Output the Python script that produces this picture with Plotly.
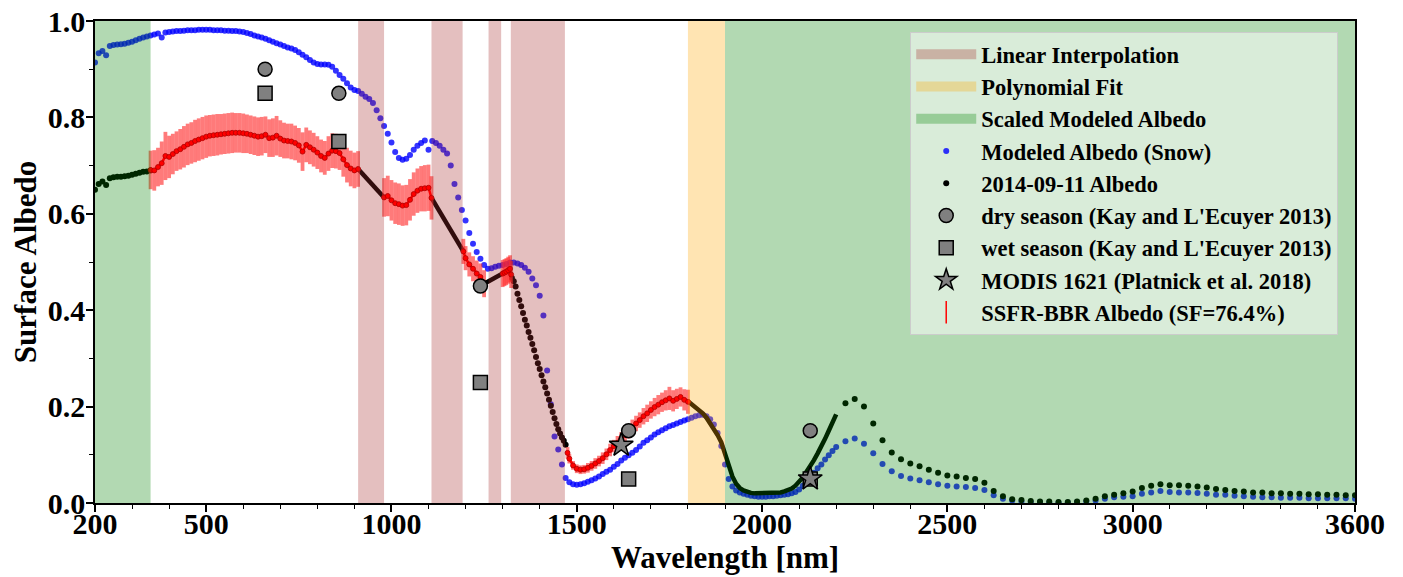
import plotly.graph_objects as go

# ---------------- data ----------------
# Modeled albedo (snow): 200-2200 nm every 10 nm, then 2225-3600 every 25 nm
model_wl = list(range(200, 2201, 10)) + list(range(2225, 3601, 25))
model_alb = [
    0.914, 0.933, 0.938, 0.929, 0.948, 0.950, 0.951, 0.952, 0.953, 0.955,
    0.957, 0.960, 0.963, 0.966, 0.968, 0.970, 0.972, 0.974, 0.966, 0.976,
    0.977, 0.978, 0.979, 0.979, 0.980, 0.981, 0.981, 0.981, 0.982, 0.982,
    0.982, 0.982, 0.981, 0.981, 0.981, 0.980, 0.980, 0.979, 0.979, 0.978,
    0.977, 0.975, 0.973, 0.970, 0.968, 0.966, 0.963, 0.960, 0.957, 0.954,
    0.951, 0.948, 0.945, 0.943, 0.940, 0.935, 0.930, 0.925, 0.919, 0.914,
    0.911, 0.910, 0.910, 0.909, 0.905, 0.897, 0.888, 0.880, 0.871, 0.862,
    0.857, 0.855, 0.849, 0.843, 0.838, 0.830, 0.815, 0.798, 0.782, 0.766,
    0.748, 0.728, 0.716, 0.712, 0.714, 0.722, 0.733, 0.741, 0.747, 0.752,
    0.733, 0.751, 0.747, 0.741, 0.733, 0.725, 0.700, 0.662, 0.634, 0.608,
    0.586, 0.560, 0.538, 0.521, 0.507, 0.494, 0.486, 0.487, 0.490, 0.492,
    0.494, 0.496, 0.499, 0.499, 0.497, 0.494, 0.488, 0.480, 0.466, 0.452,
    0.430, 0.389, 0.275, 0.205, 0.138, 0.111, 0.080, 0.052, 0.043, 0.039,
    0.038, 0.039, 0.041, 0.044, 0.047, 0.051, 0.055, 0.060, 0.065, 0.069,
    0.075, 0.081, 0.088, 0.094, 0.099, 0.104, 0.110, 0.117, 0.125, 0.130,
    0.136, 0.142, 0.147, 0.151, 0.155, 0.159, 0.162, 0.165, 0.168, 0.171,
    0.174, 0.177, 0.180, 0.182, 0.183, 0.180, 0.174, 0.163, 0.145, 0.118,
    0.080, 0.050, 0.034, 0.026, 0.022, 0.019, 0.017, 0.015, 0.014, 0.013,
    0.013, 0.013, 0.014, 0.014, 0.015, 0.016, 0.017, 0.018, 0.020, 0.023,
    0.028, 0.036, 0.045, 0.054, 0.063, 0.072, 0.080, 0.090, 0.099, 0.108,
    0.116,
    0.128, 0.134, 0.123, 0.103, 0.081, 0.066, 0.056, 0.051, 0.047, 0.043,
    0.039, 0.036, 0.034, 0.033, 0.031, 0.027, 0.016, 0.009, 0.005, 0.003,
    0.002, 0.002, 0.001, 0.001, 0.001, 0.002, 0.003, 0.005, 0.009, 0.012,
    0.013, 0.014, 0.019, 0.022, 0.025, 0.023, 0.022, 0.022, 0.021, 0.019,
    0.017, 0.017, 0.015, 0.014, 0.013, 0.012, 0.012, 0.011, 0.011, 0.011,
    0.010, 0.010, 0.010, 0.010, 0.010, 0.009,
]

# 2014-09-11 albedo, dotted parts
obs_dot_uv_wl = list(range(200, 351, 10))
obs_dot_uv = [0.650, 0.662, 0.667, 0.660, 0.674, 0.676, 0.677, 0.677, 0.678, 0.679,
              0.681, 0.683, 0.685, 0.687, 0.688, 0.690]
obs_dot_band_wl = list(range(1325, 1471, 5))
obs_dot_band = [0.467, 0.460, 0.449, 0.434, 0.421, 0.408, 0.394, 0.380, 0.368, 0.355,
                0.343, 0.330, 0.317, 0.303, 0.290, 0.278, 0.265, 0.252, 0.240, 0.227,
                0.214, 0.202, 0.189, 0.176, 0.164, 0.153, 0.144, 0.136, 0.129, 0.121]
obs_dot_ir_wl = list(range(2225, 3601, 25))
obs_dot_ir = [
    0.207, 0.216, 0.200, 0.165, 0.130, 0.105, 0.091, 0.082, 0.076, 0.069,
    0.063, 0.057, 0.055, 0.052, 0.050, 0.042, 0.025, 0.014, 0.008, 0.006,
    0.004, 0.003, 0.003, 0.002, 0.002, 0.003, 0.005, 0.009, 0.014, 0.017,
    0.020, 0.024, 0.031, 0.036, 0.039, 0.037, 0.037, 0.036, 0.034, 0.032,
    0.029, 0.027, 0.025, 0.024, 0.022, 0.022, 0.020, 0.020, 0.019, 0.019,
    0.018, 0.018, 0.017, 0.017, 0.016, 0.016,
]
# 2014-09-11 albedo, dense (interpolated / fitted / scaled) parts
interp1_wl = [910, 980]
interp1 = [0.693, 0.634]
interp2_wl = [1108, 1194]
interp2 = [0.633, 0.522]
interp3_wl = [1250, 1300]
interp3 = [0.455, 0.476]
fit_wl = list(range(1800, 2201, 10))
fit_alb = [
    0.211, 0.205, 0.200, 0.194, 0.186, 0.177, 0.166, 0.154, 0.141, 0.126,
    0.102, 0.076, 0.055, 0.040, 0.031, 0.026, 0.023, 0.021, 0.020, 0.020,
    0.020, 0.020, 0.020, 0.021, 0.021, 0.022, 0.024, 0.026, 0.030, 0.036,
    0.043, 0.053, 0.065, 0.076, 0.089, 0.103, 0.117, 0.133, 0.150, 0.167,
    0.184,
]

# SSFR-BBR albedo segments with uncertainty
ssfr_a_wl = list(range(350, 911, 10))
ssfr_a = [0.691, 0.690, 0.697, 0.705, 0.720, 0.718, 0.724, 0.730, 0.734, 0.739,
          0.744, 0.747, 0.751, 0.754, 0.757, 0.760, 0.762, 0.763, 0.764, 0.765,
          0.766, 0.767, 0.768, 0.768, 0.768, 0.767, 0.766, 0.764, 0.762, 0.760,
          0.761, 0.764, 0.757, 0.758, 0.762, 0.756, 0.752, 0.751, 0.750, 0.747,
          0.742, 0.729, 0.743, 0.738, 0.733, 0.727, 0.720, 0.716, 0.725, 0.731,
          0.730, 0.726, 0.713, 0.701, 0.694, 0.690, 0.693]
ssfr_a_err = [0.040, 0.042, 0.040, 0.045, 0.050, 0.044, 0.042, 0.041, 0.042, 0.043,
              0.043, 0.043, 0.044, 0.044, 0.044, 0.044, 0.043, 0.043, 0.043, 0.042,
              0.042, 0.042, 0.042, 0.041, 0.041, 0.041, 0.040, 0.040, 0.040, 0.040,
              0.040, 0.038, 0.039, 0.040, 0.041, 0.038, 0.037, 0.036, 0.037, 0.036,
              0.036, 0.040, 0.036, 0.035, 0.035, 0.034, 0.034, 0.035, 0.036, 0.036,
              0.036, 0.035, 0.036, 0.036, 0.037, 0.037, 0.037]
ssfr_b_wl = [980, 990, 1000, 1010, 1020, 1030, 1040, 1050, 1060, 1070, 1080, 1090, 1100, 1108]
ssfr_b = [0.634, 0.637, 0.628, 0.622, 0.620, 0.617, 0.618, 0.629, 0.641, 0.648,
          0.652, 0.653, 0.654, 0.633]
ssfr_b_err = [0.040, 0.042, 0.042, 0.043, 0.043, 0.042, 0.042, 0.043, 0.045, 0.046,
              0.047, 0.048, 0.048, 0.045]
ssfr_c_wl = [1194, 1200, 1210, 1220, 1230, 1240, 1250]
ssfr_c = [0.522, 0.508, 0.495, 0.486, 0.476, 0.469, 0.455]
ssfr_c_err = [0.026, 0.025, 0.025, 0.026, 0.027, 0.028, 0.028]
ssfr_d_wl = [1300, 1305, 1310, 1315, 1320, 1323]
ssfr_d = [0.476, 0.478, 0.480, 0.483, 0.486, 0.474]
ssfr_d_err = [0.028, 0.028, 0.028, 0.028, 0.028, 0.028]
ssfr_e_wl = [1475] + list(range(1480, 1801, 10))
ssfr_e = [0.104, 0.092, 0.078, 0.071, 0.069, 0.070, 0.073, 0.077, 0.082, 0.087,
          0.093, 0.101, 0.110, 0.118, 0.125, 0.133, 0.141, 0.149, 0.157, 0.165,
          0.172, 0.180, 0.186, 0.193, 0.199, 0.204, 0.209, 0.213, 0.217, 0.212,
          0.216, 0.220, 0.214, 0.210]
ssfr_e_err = [0.012, 0.010, 0.009, 0.009, 0.009, 0.009, 0.010, 0.010, 0.011, 0.011,
              0.012, 0.012, 0.013, 0.013, 0.014, 0.014, 0.015, 0.015, 0.016, 0.016,
              0.016, 0.017, 0.018, 0.018, 0.019, 0.020, 0.020, 0.021, 0.024, 0.022,
              0.021, 0.020, 0.022, 0.025]

# Kay & L'Ecuyer 2013 and MODIS
band_wl = [659, 858, 1240, 1640, 2130]
dry_alb = [0.90, 0.85, 0.45, 0.15, 0.15]
wet_alb = [0.85, 0.75, 0.25, 0.05, 0.05]
modis_wl = [1620, 2130]
modis_alb = [0.12, 0.05]

# shaded wavelength ranges
linear_spans = [(910, 980), (1108, 1192), (1262, 1296), (1322, 1468)]
poly_spans = [(1800, 1900)]
scaled_spans = [(200, 350), (1900, 3600)]

FONT = "Liberation Serif"

# ---------------- figure ----------------
fig = go.Figure()


def join(*segs):
    xs, ys = [], []
    for sx, sy in segs:
        xs += list(sx) + [None]
        ys += list(sy) + [None]
    return xs, ys


# modeled albedo (snow)
fig.add_trace(go.Scatter(
    x=model_wl, y=model_alb, mode="markers", name="Modeled Albedo (Snow)",
    marker=dict(color="blue", size=6, opacity=0.8, line=dict(width=0)),
    legendgroup="model", legendrank=4))

# observed albedo - dense parts
dx, dy = join((interp1_wl, interp1), (interp2_wl, interp2), (interp3_wl, interp3),
              (fit_wl, fit_alb))
fig.add_trace(go.Scatter(
    x=dx, y=dy, mode="lines", line=dict(color="black", width=4.5),
    showlegend=False, legendgroup="obs", hoverinfo="skip"))
# observed albedo - dotted parts
ox, oy = join((obs_dot_uv_wl, obs_dot_uv), (obs_dot_band_wl, obs_dot_band),
              (obs_dot_ir_wl, obs_dot_ir))
fig.add_trace(go.Scatter(
    x=ox, y=oy, mode="markers", name="2014-09-11 Albedo",
    marker=dict(color="black", size=6, line=dict(width=0)),
    legendgroup="obs", legendrank=5))

# SSFR segments
for i, (sx, sy, se) in enumerate([(ssfr_a_wl, ssfr_a, ssfr_a_err),
                                  (ssfr_b_wl, ssfr_b, ssfr_b_err),
                                  (ssfr_c_wl, ssfr_c, ssfr_c_err),
                                  (ssfr_d_wl, ssfr_d, ssfr_d_err),
                                  (ssfr_e_wl, ssfr_e, ssfr_e_err)]):
    fig.add_trace(go.Scatter(
        x=sx, y=sy, mode="lines+markers", showlegend=False, legendgroup="ssfr",
        line=dict(color="red", width=2.5),
        marker=dict(color="red", size=5, line=dict(color="#b00000", width=0.8)),
        error_y=dict(type="data", array=se, visible=True, color="rgba(255,40,40,0.62)",
                     thickness=3.8, width=0)))

# shaded spans (drawn above data lines, like the original)
span_groups = [("lin", linear_spans, "rgba(165,42,42,0.3)", "Linear Interpolation", 1),
               ("poly", poly_spans, "rgba(255,165,0,0.3)", "Polynomial Fit", 2),
               ("scaled", scaled_spans, "rgba(0,128,0,0.3)", "Scaled Modeled Albedo", 3)]
for group, spans, color, label, rank in span_groups:
    for j, (a, b) in enumerate(spans):
        fig.add_trace(go.Scatter(
            x=[a, a, b, b, a], y=[0, 1, 1, 0, 0], mode="none", fill="toself",
            fillcolor=color, name=label, legendgroup=group, showlegend=False,
            hoverinfo="skip"))
    # legend swatch
    fig.add_trace(go.Scatter(
        x=[None, None], y=[None, None], mode="lines", name=label, legendgroup=group,
        line=dict(color=color, width=16), legendrank=rank))

# reference points
fig.add_trace(go.Scatter(
    x=band_wl, y=dry_alb, mode="markers", name="dry season (Kay and L'Ecuyer 2013)",
    marker=dict(symbol="circle", size=14, color="gray", line=dict(color="black", width=1.5)),
    legendgroup="dry", legendrank=6))
fig.add_trace(go.Scatter(
    x=band_wl, y=wet_alb, mode="markers", name="wet season (Kay and L'Ecuyer 2013)",
    marker=dict(symbol="square", size=14, color="gray", line=dict(color="black", width=1.5)),
    legendgroup="wet", legendrank=7))
fig.add_trace(go.Scatter(
    x=modis_wl, y=modis_alb, mode="markers", name="MODIS 1621 (Platnick et al. 2018)",
    marker=dict(symbol="star", size=18, color="gray", line=dict(color="black", width=1.5)),
    legendgroup="modis", legendrank=8))
# legend entry for SSFR
fig.add_trace(go.Scatter(
    x=[None], y=[None], mode="markers", name="SSFR-BBR Albedo (SF=76.4%)",
    marker=dict(symbol="line-ns-open", size=18, color="red", line=dict(color="red", width=1.5)),
    legendgroup="ssfr", legendrank=9))

axis_common = dict(
    showline=True, linecolor="black", linewidth=1.5, mirror=True,
    ticks="outside", ticklen=7, tickwidth=1.5, tickcolor="black",
    showgrid=False, zeroline=False, automargin=False, ticklabeloverflow="allow",
    tickfont=dict(family=FONT, size=30, color="black", weight="bold"),
)

fig.update_xaxes(
    range=[200, 3600], tickmode="array",
    tickvals=[200, 500, 1000, 1500, 2000, 2500, 3000, 3600],
    ticktext=["200", "500", "1000", "1500", "2000", "2500", "3000", "3600"],
    minor=dict(dtick=100, tick0=0, ticks="outside", ticklen=4, tickwidth=1.2, tickcolor="black"),
    ticklabelstandoff=-14,
    title=dict(text="Wavelength [nm]", standoff=2,
               font=dict(family=FONT, size=31, color="black", weight="bold")),
    **axis_common)
fig.update_yaxes(
    range=[0, 1.0], tickmode="linear", tick0=0, dtick=0.2, tickformat=".1f",
    minor=dict(dtick=0.1, ticks="outside", ticklen=4, tickwidth=1.2, tickcolor="black"),
    ticklabelstandoff=-5,
    title=dict(text="Surface Albedo", standoff=4,
               font=dict(family=FONT, size=31, color="black", weight="bold")),
    **axis_common)

# page body adds an 8 px margin, so the figure is sized 8 px smaller
fig.update_layout(
    width=1395, height=569, autosize=False,
    margin=dict(l=87, r=48, t=13, b=73.5),
    plot_bgcolor="white", paper_bgcolor="white",
    font=dict(family=FONT, color="black"),
    legend=dict(x=0.647, y=0.977, xanchor="left", yanchor="top",
                bgcolor="rgba(255,255,255,0.5)", bordercolor="#cccccc", borderwidth=1,
                font=dict(family=FONT, size=22.5, color="black", weight="bold"),
                tracegroupgap=0, itemwidth=60, traceorder="grouped"),
)

fig.write_html("out.html")
